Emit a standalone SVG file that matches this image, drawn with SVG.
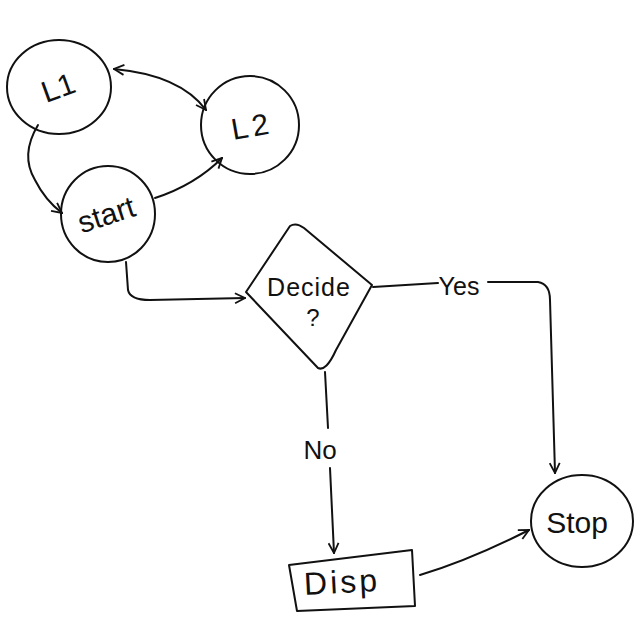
<svg xmlns="http://www.w3.org/2000/svg" width="640" height="640" viewBox="0 0 640 640">
<defs>
<style>
.shape{fill:none;stroke:#111;stroke-width:2;stroke-linecap:round;stroke-linejoin:round}
.edge{fill:none;stroke:#111;stroke-width:2;stroke-linecap:round}
.lbl{font-family:"Liberation Sans","DejaVu Sans",sans-serif;font-size:28px;fill:#111;text-anchor:middle}
</style>
<marker id="arr" viewBox="0 0 12 12" refX="11" refY="6" markerWidth="12" markerHeight="12" markerUnits="userSpaceOnUse" orient="auto-start-reverse">
<path d="M1,1 L11,6 L1,11" fill="none" stroke="#111" stroke-width="1.8"/>
</marker>
</defs>
<rect width="640" height="640" fill="#fff"/>
<g id="L1">
<ellipse class="shape" cx="59" cy="87" rx="52" ry="47"/>
<text class="lbl" x="58" y="98" transform="rotate(-20 58 87)" style="font-size:30px">L1</text>
</g>
<g id="L2">
<ellipse class="shape" cx="250" cy="125" rx="49" ry="49"/>
<text class="lbl" x="252" y="137" transform="rotate(-10 250 127)" style="font-size:30px;letter-spacing:4px">L2</text>
</g>
<g id="start">
<ellipse class="shape" cx="108" cy="214" rx="47" ry="48"/>
<text class="lbl" x="106" y="225" transform="rotate(-18 106 214)" style="font-size:30px">start</text>
</g>
<g id="decide">
<path class="shape" d="M290,226 Q296,222 304,228 L372,285 L336,350 Q326,372 318,368 L246,292 Z"/>
<text class="lbl" x="309" y="296" style="font-size:25px;letter-spacing:1px">Decide</text>
<text class="lbl" x="313" y="326" style="font-size:24px">?</text>
</g>
<g id="stop">
<ellipse class="shape" cx="582" cy="521" rx="51" ry="46"/>
<text class="lbl" x="577" y="533" style="font-size:30px">Stop</text>
</g>
<g id="disp">
<path class="shape" d="M289,565 L412,550 L415,606 L297,611 Z"/>
<text class="lbl" x="342" y="593" transform="rotate(-3 342 582)" style="font-size:32px;letter-spacing:3px">Disp</text>
</g>
<g id="connectors">
<path class="edge" marker-start="url(#arr)" marker-end="url(#arr)" d="M114,69 Q180,75 206,110"/>
<path class="edge" marker-end="url(#arr)" d="M38,125 Q20,155 35,180 Q45,200 62,213"/>
<path class="edge" marker-end="url(#arr)" d="M155,198 Q195,185 222,158"/>
<path class="edge" marker-end="url(#arr)" d="M126,262 L128,290 Q130,300 150,300 L245,298"/>
<path class="edge" d="M373,287 L438,283"/>
<text class="lbl" x="459" y="295" style="font-size:25px">Yes</text>
<path class="edge" marker-end="url(#arr)" d="M488,282 L538,282 Q550,284 550,300 L555,473"/>
<path class="edge" d="M325,372 L328,428"/>
<text class="lbl" x="320" y="459" style="font-size:26px">No</text>
<path class="edge" marker-end="url(#arr)" d="M330,468 L334,553"/>
<path class="edge" marker-end="url(#arr)" d="M420,575 Q470,560 529,530"/>
</g>
</svg>
